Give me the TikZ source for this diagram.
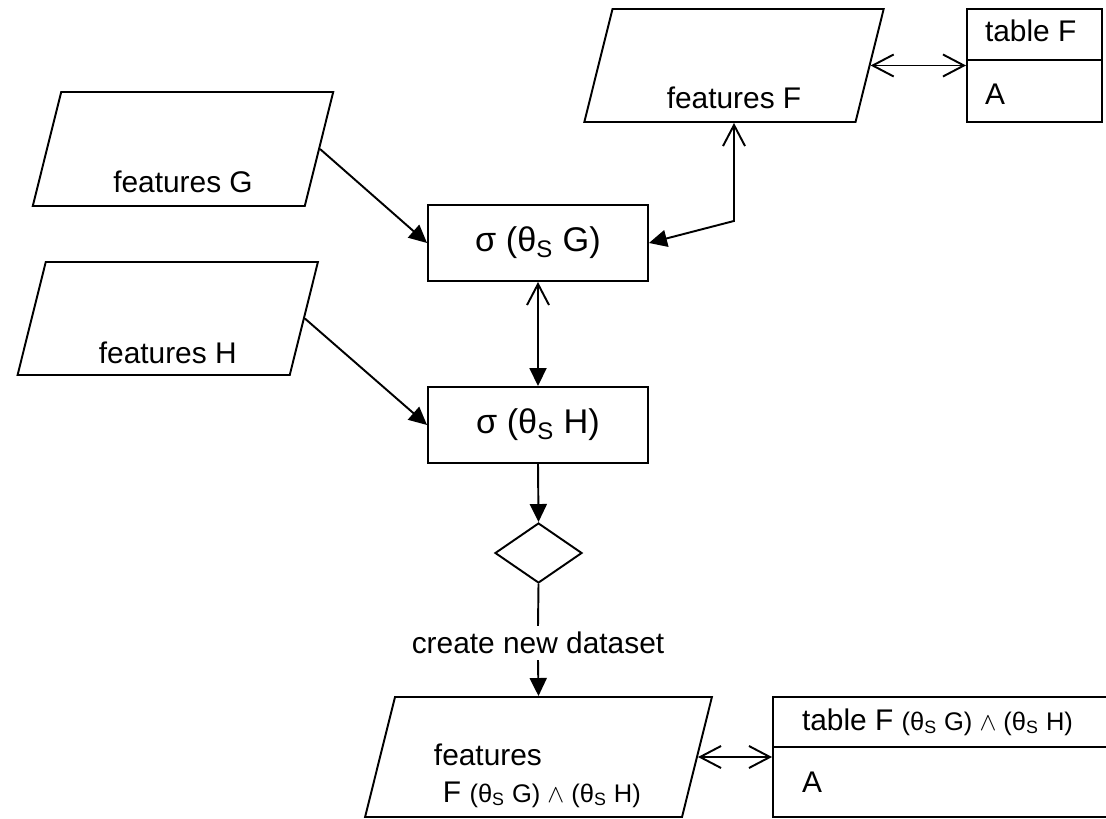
\documentclass[tikz,border=0pt]{standalone}
\usepackage{fontspec}
\setmainfont{Liberation Sans}
\usetikzlibrary{positioning, shapes.geometric, arrows.meta}

\tikzset{
    openhead/.tip={Straight Barb[length=0.42cm, width=0.44cm]},
    solidhead/.tip={Triangle[length=0.36cm, width=0.34cm]},
}

\begin{document}
\begin{tikzpicture}[
        font=\fontsize{17}{20}\selectfont,
        line width=1.1pt,
        data/.style={draw, trapezium, trapezium left angle=76, trapezium right angle=104},
        select/.style={draw, rectangle, minimum width=4.4cm, minimum height=1.52cm,
            font=\fontsize{19.5}{22}\selectfont},
        tablebox/.style={draw, rectangle, inner sep=0pt},
        txt/.style={inner sep=0pt},
    ]
                \useasboundingbox (0, 0) rectangle (22.12, -16.38);
                \clip (0, 0) rectangle (22.12, -16.38);

                \node [data, inner xsep=2.436cm, inner ysep=1.14cm] (featG) at (3.66, -2.98) {};
                \node [data, inner xsep=2.44cm, inner ysep=1.13cm] (featH) at (3.355, -6.37) {};
                \node [data, inner xsep=2.43cm, inner ysep=1.13cm] (featF) at (14.68, -1.31) {};
                \node [data, inner xsep=2.87cm, inner ysep=1.2cm] (featN) at (10.77, -15.14) {};

                \node [txt, anchor=base] (featGtext) at ([yshift=0.28cm]featG.south) {features G};
                \node [txt, anchor=base] (featHtext) at ([yshift=0.24cm]featH.south) {features H};
                \node [txt, anchor=base] (featFtext) at ([yshift=0.28cm]featF.south) {features F};
                \node [txt, anchor=base west] (featNtext) at (8.66, -15.3) {features};
                \node [txt, anchor=base west] (featNsub) at (8.84, -16.04)
                    {F {\fontsize{14.5}{16}\selectfont (θ\textsubscript{S} G) $\wedge$ (θ\textsubscript{S} H)}};

                \node [select] (selG) at (10.76, -4.86) {σ (θ\textsubscript{S} G)};
                \node [select] (selH) at (10.76, -8.5) {σ (θ\textsubscript{S} H)};

                \node [draw, diamond, minimum width=1.74cm, minimum height=1.2cm, inner sep=0pt] (cond) at (10.77, -11.06) {};
                \node [inner sep=3pt] (create) at (10.76, -12.86) {create new dataset};

                \node [tablebox, minimum width=2.7cm, minimum height=2.26cm] (tabF) at (20.69, -1.31) {};
                \draw ([yshift=-1.04cm]tabF.north west) -- ([yshift=-1.04cm]tabF.north east);
                \node [txt, anchor=base west] (tabFname) at ([xshift=0.36cm, yshift=-0.66cm]tabF.north west) {table F};
                \node [txt, anchor=base west] (tabFattr) at ([xshift=0.36cm, yshift=-1.92cm]tabF.north west) {A};

                \node [tablebox, minimum width=7.14cm, minimum height=2.4cm] (tabN) at (19.03, -15.14) {};
                \draw ([yshift=-1.02cm]tabN.north west) -- ([yshift=-1.02cm]tabN.north east);
                \node [txt, anchor=base west] (tabNname) at ([xshift=0.58cm, yshift=-0.68cm]tabN.north west)
                    {table F {\fontsize{14.5}{16}\selectfont (θ\textsubscript{S} G) $\wedge$ (θ\textsubscript{S} H)}};
                \node [txt, anchor=base west] (tabNattr) at ([xshift=0.58cm, yshift=-1.92cm]tabN.north west) {A};

                \draw [-solidhead] (featG.east) -- (selG.west);
                \draw [-solidhead] (featH.east) -- (selH.west);
                \draw [openhead-openhead] (featF.east) -- (tabF.west);
                \draw [openhead-solidhead] (featF.south) -- ++(0, -1.96) -- (selG.east);
                \draw [openhead-solidhead] (selG.south) -- (selH.north);
                \draw [-solidhead] (selH.south) -- (cond.north);
                \draw (cond.south) -- (create.north);
                \draw [-solidhead] (create.south) -- (featN.north);
                \draw [openhead-openhead] (featN.east) -- (tabN.west);
            \end{tikzpicture}
\end{document}
